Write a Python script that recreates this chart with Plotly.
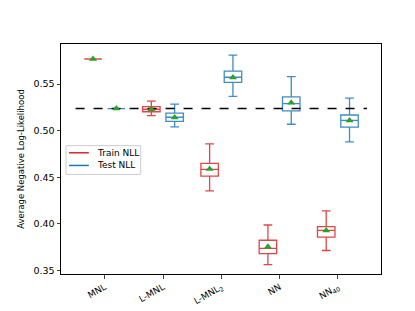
import plotly.graph_objects as go

models = ["MNL", "L-MNL", "L-MNL<sub>2</sub>", "NN", "NN<sub>40</sub>"]
tick_pos = [1, 2, 3, 4, 5]
series_names = ["Train NLL", "Test NLL"]

train_low = [0.5769, 0.5162, 0.4355, 0.3562, 0.3714]
train_q1 = [0.5769, 0.5203, 0.4513, 0.3680, 0.3858]
train_med = [0.5769, 0.5230, 0.4585, 0.3737, 0.3930]
train_q3 = [0.5769, 0.5257, 0.4650, 0.3824, 0.3971]
train_high = [0.5769, 0.5316, 0.4859, 0.3988, 0.4139]
train_mean = [0.5769, 0.5230, 0.4590, 0.3755, 0.3930]

test_low = [0.5237, 0.5041, 0.5367, 0.5069, 0.4880]
test_q1 = [0.5237, 0.5100, 0.5518, 0.5213, 0.5038]
test_med = [0.5237, 0.5144, 0.5573, 0.5291, 0.5110]
test_q3 = [0.5237, 0.5188, 0.5638, 0.5363, 0.5168]
test_high = [0.5237, 0.5285, 0.5810, 0.5580, 0.5350]
test_mean = [0.5237, 0.5140, 0.5570, 0.5300, 0.5110]

ref_value = 0.5237
ref_span = [0.5, 5.5]
offset = 0.2

RED = "rgba(214,39,40,0.85)"
BLUE = "rgba(31,119,180,0.85)"
GREEN = "#2ca02c"
legend_colors = ["#d62728", "#1f77b4"]

train_x = [p - offset for p in tick_pos]
test_x = [p + offset for p in tick_pos]

fig = go.Figure()

fig.add_trace(go.Scatter(x=ref_span, y=[ref_value, ref_value], mode="lines",
                         line=dict(color="black", width=1.5, dash="dash"),
                         showlegend=False, hoverinfo="skip"))

fig.add_trace(go.Box(name=series_names[0], x=train_x, q1=train_q1, median=train_med,
                     q3=train_q3, lowerfence=train_low, upperfence=train_high,
                     width=0.3, whiskerwidth=0.5, line=dict(color=RED, width=1.3),
                     fillcolor="rgba(255,255,255,0)", boxpoints=False,
                     showlegend=False))
fig.add_trace(go.Box(name=series_names[1], x=test_x, q1=test_q1, median=test_med,
                     q3=test_q3, lowerfence=test_low, upperfence=test_high,
                     width=0.3, whiskerwidth=0.5, line=dict(color=BLUE, width=1.3),
                     fillcolor="rgba(255,255,255,0)", boxpoints=False,
                     showlegend=False))

fig.add_trace(go.Scatter(x=train_x + test_x, y=train_mean + test_mean, mode="markers",
                         marker=dict(symbol="triangle-up", size=7, color=GREEN),
                         showlegend=False, hoverinfo="skip"))

# manual legend (matplotlib style, compact)
fig.add_shape(type="rect", xref="paper", yref="paper", x0=0.0156, x1=0.249,
              y0=0.433, y1=0.558, line=dict(color="#cccccc", width=1),
              fillcolor="rgba(255,255,255,0.8)", layer="above")
for name, col, ly in zip(series_names, legend_colors, [0.527, 0.472]):
    fig.add_shape(type="line", xref="paper", yref="paper", x0=0.025, x1=0.087,
                  y0=ly, y1=ly, line=dict(color=col, width=1.5), layer="above")
    fig.add_annotation(xref="paper", yref="paper", x=0.106, y=ly, text=name,
                       showarrow=False, xanchor="left", yanchor="middle",
                       font=dict(size=9, color="black"))

fig.update_layout(
    width=415, height=311,
    margin=dict(l=52, r=42, t=36, b=35),
    paper_bgcolor="white", plot_bgcolor="white",
    font=dict(family="DejaVu Sans", size=9, color="black"),
    boxmode="overlay",
    showlegend=False,
)
fig.update_xaxes(range=[0.25, 5.74], tickvals=tick_pos, ticktext=models,
                 tickangle=-30, ticks="outside", ticklen=3.5, tickwidth=1,
                 showline=True, linecolor="black", linewidth=1, mirror=True,
                 showgrid=False, zeroline=False, tickfont=dict(size=9))
fig.update_yaxes(range=[0.3462, 0.593], tickvals=[0.35, 0.40, 0.45, 0.50, 0.55],
                 tickformat=".2f", ticks="outside", ticklen=3.5, tickwidth=1,
                 showline=True, linecolor="black", linewidth=1, mirror=True,
                 showgrid=False, zeroline=False, tickfont=dict(size=9.5),
                 title=dict(text="Average Negative Log-Likelihood", font=dict(size=8.5), standoff=7))

fig.write_html("out.html")
